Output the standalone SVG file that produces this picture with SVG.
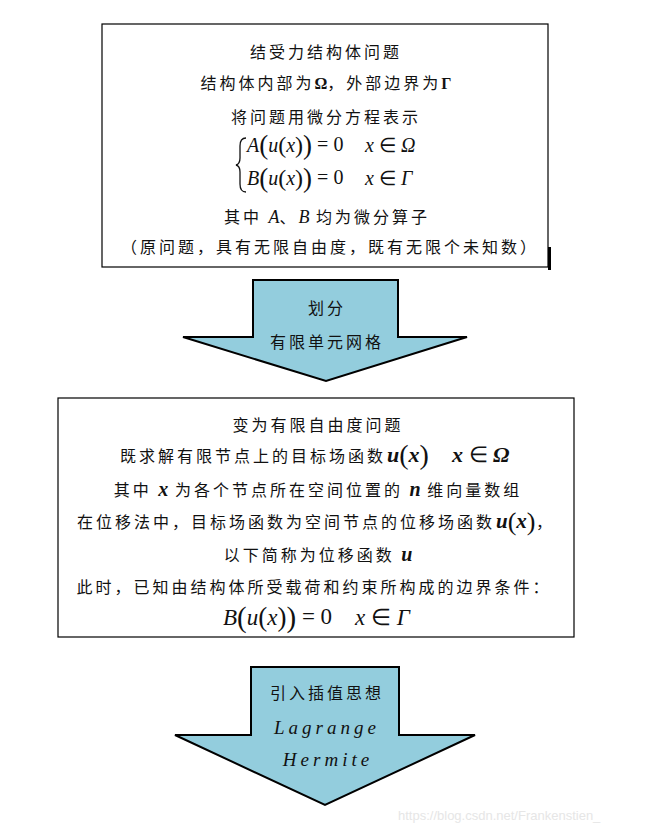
<svg xmlns="http://www.w3.org/2000/svg" width="654" height="832" viewBox="0 0 654 832">
<style>
.cn{font-family:"Noto Sans CJK SC","Noto Sans CJK JP",sans-serif;font-size:16px;letter-spacing:3px;fill:#111}
.m{font-family:"Liberation Serif",serif;font-style:italic;fill:#111}
.r{font-family:"Liberation Serif",serif;font-style:normal;fill:#111}
.box{fill:#fff;stroke:#000;stroke-width:1.2}
.arrow{fill:#93CDDD;stroke:#000;stroke-width:2;stroke-linejoin:miter}
.tt{font-family:"Liberation Serif",serif;font-style:italic;font-size:19px;letter-spacing:4px;fill:#111}
</style>
<rect width="654" height="832" fill="#fff"/>
<g id="box1">
<rect class="box" x="102" y="24" width="446" height="243"/>
<rect x="548" y="247" width="3" height="23" fill="#000"/>
<text class="cn" x="326" y="58" text-anchor="middle">结受力结构体问题</text>
<text class="cn" x="326" y="89" text-anchor="middle">结构体内部为<tspan font-family="Liberation Serif" font-weight="bold" letter-spacing="0">Ω</tspan>，外部边界为<tspan font-family="Liberation Serif" font-weight="bold" letter-spacing="0">Γ</tspan></text>
<text class="cn" x="326" y="123" text-anchor="middle">将问题用微分方程表示</text>
<path d="M246,138 Q240,138 240,146 L240,158 Q240,164 236,165 Q240,166 240,172 L240,184 Q240,192 246,192" fill="none" stroke="#111" stroke-width="1.3"/>
<text class="m" x="247" y="152" font-size="20">A<tspan class="r" font-size="27" dy="2">(</tspan><tspan dy="-2">u</tspan><tspan class="r" font-size="24" dy="1">(</tspan><tspan dy="-1">x</tspan><tspan class="r" font-size="24" dy="1">)</tspan><tspan class="r" font-size="27" dy="1">)</tspan><tspan class="r" dy="-3"> = 0</tspan></text>
<text class="m" x="365" y="152" font-size="20">x <tspan class="r">∈</tspan> Ω</text>
<text class="m" x="247" y="185" font-size="20">B<tspan class="r" font-size="27" dy="2">(</tspan><tspan dy="-2">u</tspan><tspan class="r" font-size="24" dy="1">(</tspan><tspan dy="-1">x</tspan><tspan class="r" font-size="24" dy="1">)</tspan><tspan class="r" font-size="27" dy="1">)</tspan><tspan class="r" dy="-3"> = 0</tspan></text>
<text class="m" x="365" y="185" font-size="20">x <tspan class="r">∈</tspan> Γ</text>
<text class="cn" x="327" y="223" text-anchor="middle">其中 <tspan class="m" font-size="18" letter-spacing="0">A</tspan>、<tspan class="m" font-size="18" letter-spacing="0">B</tspan> 均为微分算子</text>
<text class="cn" x="330" y="253" text-anchor="middle">（原问题，具有无限自由度，既有无限个未知数）</text>
</g>
<g id="arrow1">
<polygon class="arrow" points="253,280 398,280 398,337 467,337 326,381 183,337 253,337"/>
<text class="cn" x="327" y="314" text-anchor="middle">划分</text>
<text class="cn" x="327" y="348" text-anchor="middle">有限单元网格</text>
</g>
<g id="box2">
<rect class="box" x="58" y="398" width="516" height="239"/>
<text class="cn" x="318" y="431" text-anchor="middle">变为有限自由度问题</text>
<text class="cn" x="120" y="462">既求解有限节点上的目标场函数</text>
<text class="m" x="387" y="462" font-size="22" font-weight="bold">u<tspan class="r" font-weight="normal" font-size="28" dy="2">(</tspan><tspan dy="-2">x</tspan><tspan class="r" font-weight="normal" font-size="28" dy="2">)</tspan></text>
<text class="m" x="452" y="462" font-size="22" font-weight="bold">x <tspan class="r" font-weight="normal">∈</tspan> Ω</text>
<text class="cn" x="318" y="496" text-anchor="middle">其中 <tspan class="m" font-size="20" font-weight="bold" letter-spacing="0">x</tspan> 为各个节点所在空间位置的 <tspan class="m" font-size="20" font-weight="bold" letter-spacing="0">n</tspan> 维向量数组</text>
<text class="cn" x="77" y="528" letter-spacing="2.8">在位移法中，目标场函数为空间节点的位移场函数</text>
<text class="m" x="496" y="528" font-size="21" font-weight="bold">u<tspan class="r" font-weight="normal" font-size="26" dy="2">(</tspan><tspan dy="-2">x</tspan><tspan class="r" font-weight="normal" font-size="26" dy="2">)</tspan></text>
<text class="cn" x="536" y="528" letter-spacing="0">，</text>
<text class="cn" x="318" y="561" text-anchor="middle">以下简称为位移函数 <tspan class="m" font-size="20" font-weight="bold" letter-spacing="0">u</tspan></text>
<text class="cn" x="314" y="593" text-anchor="middle">此时，已知由结构体所受载荷和约束所构成的边界条件：</text>
<text class="m" x="223" y="625" font-size="23">B<tspan class="r" font-size="29" dy="2">(</tspan><tspan dy="-2">u</tspan><tspan class="r" font-size="27" dy="1">(</tspan><tspan dy="-1">x</tspan><tspan class="r" font-size="27" dy="1">)</tspan><tspan class="r" font-size="29" dy="1">)</tspan><tspan class="r" dy="-3"> = 0</tspan></text>
<text class="m" x="355" y="625" font-size="23">x <tspan class="r">∈</tspan> Γ</text>
</g>
<g id="arrow2">
<polygon class="arrow" points="251,667 399,667 399,735 475,735 325,805 175,735 251,735"/>
<text class="cn" x="327" y="699" text-anchor="middle">引入插值思想</text>
<text class="tt" x="327" y="734" text-anchor="middle">Lagrange</text>
<text class="tt" x="328" y="766" text-anchor="middle">Hermite</text>
</g>
<g id="connectors"></g>
<text x="398" y="820" font-family="Liberation Sans, sans-serif" font-size="13" fill="#e6e6e6">https://blog.csdn.net/Frankenstien_</text>
</svg>
